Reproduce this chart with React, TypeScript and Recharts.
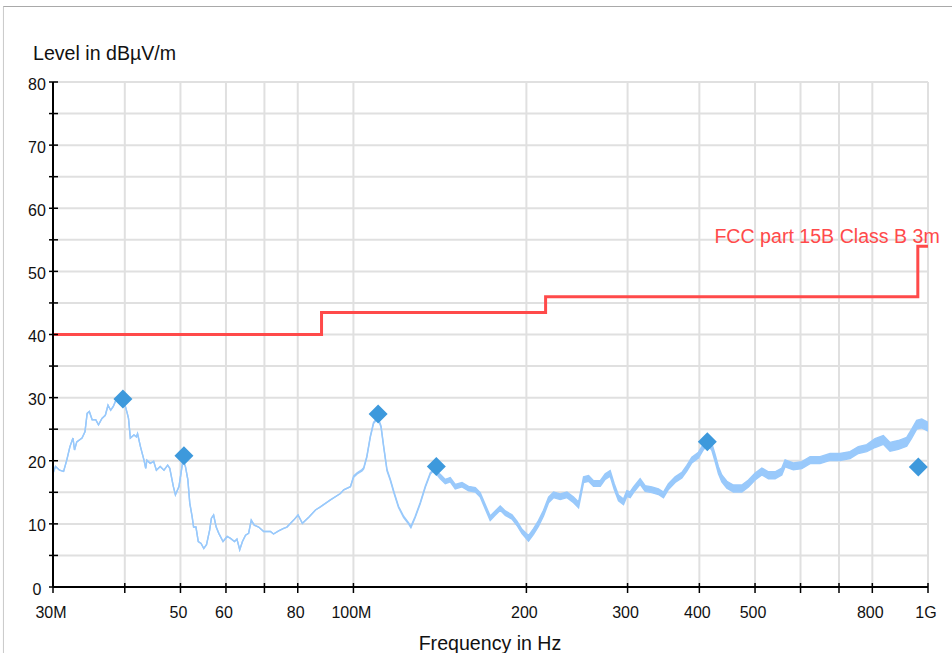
import React from 'react'
import { ComposedChart, XAxis, YAxis, CartesianGrid, Line, Area, Scatter } from 'recharts'

// frequency in MHz, level in dBµV/m
const traceFreq = [
  30.0, 30.3, 30.8, 31.3, 31.7, 32.1, 32.5, 32.7, 33.0, 33.7,
  34.1, 34.4, 34.7, 35.1, 35.6, 36.0, 36.5, 37.0, 37.4, 37.8,
  38.2, 38.6, 39.3, 40.1, 40.4, 40.6, 40.9, 41.5, 41.9, 42.1,
  42.6, 43.2, 43.5, 43.7, 44.3, 44.9, 45.4, 46.1, 46.8, 47.5,
  47.9, 48.6, 49.0, 49.7, 50.1, 50.5, 51.0, 51.5, 51.9, 52.4,
  52.7, 53.2, 53.7, 54.3, 54.9, 55.5, 56.2, 56.6, 57.1, 57.7,
  58.3, 59.3, 60.3, 61.1, 62.1, 62.7, 63.4, 64.1, 64.9, 65.7,
  66.4, 67.2, 68.4, 69.8, 71.7, 72.6, 74.1, 75.6, 76.6, 78.7,
  80.1, 81.5, 83.7, 85.9, 87.6, 91.2, 94.9, 96.2, 98.8, 100.1,
  101.5, 103.5, 104.2, 105.5, 107.0, 108.4, 110.3, 111.7, 112.9, 114.4,
  115.9, 117.8, 119.8, 122.3, 124.7, 125.9, 128.1, 130.7, 133.4, 136.1,
  137.9, 141.6, 144.5, 147.4, 150.4, 154.5, 158.6, 163.0, 166.2, 169.6,
  173.0, 176.5, 180.1, 183.8, 188.8, 192.6, 196.5, 201.7, 205.8, 210.0,
  214.2, 218.6, 223.0, 229.0, 235.3, 241.6, 246.5, 251.5, 256.6, 261.7,
  268.9, 274.3, 279.8, 284.4, 289.3, 295.1, 299.2, 303.1, 307.2, 315.5,
  321.9, 330.7, 339.5, 346.4, 353.4, 363.0, 372.9, 380.4, 388.1, 398.6,
  406.6, 413.2, 420.5, 426.2, 431.8, 437.7, 446.6, 458.5, 474.2, 487.0,
  500.2, 513.8, 527.6, 541.9, 556.6, 564.0, 583.1, 603.1, 623.5, 648.9,
  675.4, 703.0, 731.7, 756.4, 782.3, 808.8, 836.1, 858.8, 887.8, 918.2,
  936.8, 955.7, 975.1, 1000,
]
const traceLevel = [
  18.0, 19.1, 18.5, 18.3, 20.1, 22.2, 23.6, 21.7, 23.0, 23.6,
  24.6, 27.5, 27.8, 26.5, 26.5, 25.7, 26.7, 27.2, 28.8, 28.0,
  28.6, 29.6, 29.7, 28.6, 27.5, 26.7, 23.6, 24.1, 23.8, 24.3,
  22.2, 20.1, 18.8, 20.1, 19.6, 19.9, 18.5, 19.1, 18.5, 19.3,
  18.8, 15.9, 14.6, 15.9, 18.0, 20.1, 19.1, 17.0, 13.3, 11.1,
  9.5, 9.5, 7.2, 6.9, 6.1, 6.7, 9.0, 10.9, 11.4, 9.5,
  8.5, 7.2, 8.0, 7.7, 7.2, 7.6, 5.9, 7.2, 8.2, 8.5,
  10.6, 9.8, 9.5, 8.8, 8.8, 8.4, 8.9, 9.3, 9.5, 10.6,
  11.4, 10.1, 11.1, 12.2, 12.7, 13.8, 14.8, 15.4, 15.9, 17.5,
  18.0, 18.5, 18.8, 20.6, 23.8, 26.0, 26.8, 25.4, 22.2, 18.5,
  17.0, 14.8, 12.7, 11.1, 10.1, 9.5, 11.1, 13.3, 15.9, 18.0,
  18.5, 17.5, 16.7, 17.0, 15.9, 16.2, 15.6, 15.4, 14.6, 12.7,
  10.9, 11.7, 12.5, 11.7, 11.1, 10.1, 8.8, 7.7, 8.8, 10.1,
  11.7, 13.8, 14.6, 14.3, 14.6, 13.8, 13.0, 17.0, 17.2, 16.4,
  16.4, 17.5, 18.0, 15.9, 14.1, 13.5, 14.8, 14.6, 15.4, 16.7,
  15.6, 15.4, 15.1, 14.6, 15.9, 17.0, 17.7, 18.8, 20.1, 20.9,
  22.2, 23.0, 22.2, 20.4, 18.5, 17.2, 16.2, 15.6, 15.6, 16.4,
  17.5, 18.3, 17.7, 17.7, 18.3, 19.6, 19.1, 19.3, 20.1, 20.1,
  20.6, 20.6, 20.9, 21.7, 22.0, 22.8, 23.3, 22.2, 22.5, 23.0,
  24.3, 25.7, 25.9, 25.4,
]

// thickness of the noise band (dB) per frequency range
const bandEdges = [30, 100, 140, 200, 415, 800, 1001]
const bandWidth = [0, 0.2, 0.7, 0.9, 1.1, 1.4]

const peakFreq = [39.7, 50.7, 110.4, 139.4, 413, 962]
const peakLevel = [29.8, 20.8, 27.4, 19.1, 23.0, 19.0]

const limitFreq = [30, 88, 216, 960, 1000]
const limitLevel = [40, 43.5, 46, 54, 54]

const xTicks = [30, 40, 50, 60, 70, 80, 100, 200, 300, 400, 500, 600, 700, 800, 1000]
const xTickLabels = ['30M', '', '50', '60', '', '80', '100M', '200', '300', '400', '500', '', '', '800', '1G']
const yTicks = [0, 5, 10, 15, 20, 25, 30, 35, 40, 45, 50, 55, 60, 65, 70, 75, 80]

const FONT = '"Liberation Sans", Arial, Helvetica, sans-serif'
const TRACE = '#99c9fb'
const PEAK = '#3d99dc'
const LIMIT = '#ff4a4a'

const traceData = traceFreq.map((f, i) => {
  const k = bandEdges.findIndex((e, j) => f >= e && f < bandEdges[j + 1])
  const w = bandWidth[Math.max(k, 0)] / 2
  return { f, band: [traceLevel[i] - w, traceLevel[i] + w] }
})
const peakData = peakFreq.map((f, i) => ({ f, v: peakLevel[i] }))
const limitData = limitFreq.map((f, i) => ({ f, v: limitLevel[i] }))

function XTick({ x, y, payload }: any) {
  const i = xTicks.indexOf(payload.value)
  const label = i >= 0 ? xTickLabels[i] : ''
  return (
    <g>
      <line x1={x} x2={x} y1={y - 4} y2={y + 6} stroke="#000" strokeWidth={1.5} />
      {label && (
        <text x={x - 2} y={y + 31} textAnchor="middle" fontSize={16} fontFamily={FONT} fill="#111">
          {label}
        </text>
      )}
    </g>
  )
}

function YTick({ x, y, payload }: any) {
  return (
    <g>
      <line x1={x - 4} x2={x + 5} y1={y} y2={y} stroke="#000" strokeWidth={1.5} />
      {payload.value % 10 === 0 && (
        <text x={x - 16} y={y + 7.5} textAnchor="middle" fontSize={16} fontFamily={FONT} fill="#111">
          {payload.value}
        </text>
      )}
    </g>
  )
}

function Diamond({ cx, cy }: any) {
  const r = 9.5
  return <polygon points={`${cx},${cy - r} ${cx + r},${cy} ${cx},${cy + r} ${cx - r},${cy}`} fill={PEAK} />
}

function limitLabel({ x, y, index }: any) {
  if (index !== 3) return <g />
  return (
    <text x={x + 22} y={y - 3} textAnchor="end" fontSize={19.6} fontFamily={FONT} fill={LIMIT}>
      FCC part 15B Class B 3m
    </text>
  )
}

export default function App() {
  return (
    <div style={{ position: 'absolute', left: 0, top: 0, width: 952, height: 653, overflow: 'hidden', background: '#fff' }}>
      <div
        style={{
          position: 'absolute',
          left: 3,
          top: 6,
          width: 1000,
          height: 1000,
          borderTop: '1px solid #a9a9a9',
          borderLeft: '1px solid #cccccc',
          boxShadow: '0 1px 1px rgba(0,0,0,0.08)',
        }}
      />
      <div style={{ position: 'absolute', left: 0, top: 0 }}>
        <ComposedChart width={952} height={653} margin={{ top: 82, right: 24, bottom: 0, left: 0 }}>
          <CartesianGrid stroke="#e0e0e0" strokeWidth={2} />
          <XAxis
            type="number"
            dataKey="f"
            scale="log"
            domain={[30, 1000]}
            ticks={xTicks}
            allowDataOverflow
            height={66}
            tickSize={0}
            tickMargin={0}
            tick={<XTick />}
            axisLine={{ stroke: '#000', strokeWidth: 2 }}
            tickLine={false}
          />
          <YAxis
            type="number"
            dataKey="v"
            domain={[0, 80]}
            ticks={yTicks}
            allowDataOverflow
            width={53}
            tickSize={0}
            tickMargin={0}
            tick={<YTick />}
            axisLine={{ stroke: '#000', strokeWidth: 2 }}
            tickLine={false}
          />
          <Line
            data={limitData}
            dataKey="v"
            type="stepAfter"
            stroke={LIMIT}
            strokeWidth={3}
            dot={false}
            isAnimationActive={false}
            label={limitLabel}
          />
          <Area
            data={traceData}
            dataKey="band"
            type="linear"
            stroke={TRACE}
            strokeWidth={1.4}
            fill={TRACE}
            fillOpacity={1}
            dot={false}
            isAnimationActive={false}
          />
          <Scatter data={peakData} dataKey="v" shape={<Diamond />} isAnimationActive={false} />
        </ComposedChart>
      </div>
      <svg width={952} height={653} style={{ position: 'absolute', left: 0, top: 0, pointerEvents: 'none' }}>
        <text x={33} y={60} fontSize={19.6} fontFamily={FONT} fill="#111">
          Level in dBµV/m
        </text>
        <text x={490} y={650} textAnchor="middle" fontSize={19.6} fontFamily={FONT} fill="#111">
          Frequency in Hz
        </text>
      </svg>
    </div>
  )
}
